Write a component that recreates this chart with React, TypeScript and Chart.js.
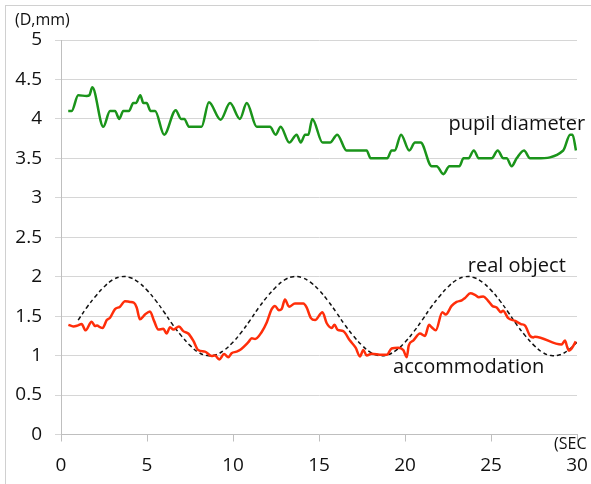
import React, { useEffect, useRef } from "react";
import { Chart, registerables } from "chart.js";

Chart.register(...registerables);

const pupilTime = [0.42, 0.62, 1.0, 1.49, 1.65, 1.82, 2.46, 2.85, 3.14, 3.39, 3.62, 3.95, 4.2, 4.36, 4.61, 4.79, 4.98, 5.21, 5.47, 6.0, 6.67, 6.98, 7.17, 7.44, 8.17, 8.6, 9.28, 9.83, 10.4, 10.8, 11.38, 12.15, 12.48, 12.77, 13.27, 13.7, 13.94, 14.19, 14.38, 14.61, 15.21, 15.64, 16.06, 16.6, 17.77, 18.0, 18.97, 19.22, 19.4, 19.77, 20.25, 20.58, 20.91, 21.55, 21.84, 22.23, 22.58, 23.16, 23.4, 23.68, 24.0, 24.3, 25.04, 25.39, 25.72, 25.91, 26.2, 26.49, 26.92, 27.27, 27.66, 29.2, 29.6, 29.74, 29.94];
const pupilDiameter = [4.1, 4.1, 4.3, 4.29, 4.3, 4.4, 3.9, 4.1, 4.1, 4.0, 4.1, 4.1, 4.2, 4.2, 4.3, 4.2, 4.2, 4.1, 4.1, 3.8, 4.11, 4.0, 4.0, 3.9, 3.9, 4.21, 3.99, 4.2, 4.0, 4.2, 3.9, 3.9, 3.8, 3.9, 3.7, 3.8, 3.7, 3.8, 3.8, 4.0, 3.7, 3.7, 3.8, 3.6, 3.6, 3.5, 3.5, 3.6, 3.6, 3.8, 3.6, 3.7, 3.7, 3.4, 3.4, 3.3, 3.4, 3.4, 3.5, 3.5, 3.6, 3.5, 3.5, 3.6, 3.5, 3.5, 3.4, 3.5, 3.6, 3.5, 3.5, 3.6, 3.8, 3.8, 3.6];

const accomTime = [0.43, 0.72, 0.95, 1.2, 1.43, 1.78, 1.98, 2.1, 2.27, 2.42, 2.66, 2.85, 3.14, 3.43, 3.72, 4.01, 4.24, 4.4, 4.59, 4.88, 5.17, 5.41, 5.66, 5.95, 6.14, 6.34, 6.53, 6.86, 7.11, 7.4, 7.69, 7.98, 8.37, 8.76, 8.95, 9.2, 9.48, 9.73, 9.92, 10.2, 10.4, 10.89, 11.09, 11.28, 11.67, 11.96, 12.25, 12.44, 12.67, 12.83, 13.02, 13.26, 13.6, 14.09, 14.28, 14.53, 14.77, 15.2, 15.45, 15.74, 15.9, 16.09, 16.41, 16.8, 17.13, 17.38, 17.58, 17.77, 18.06, 18.65, 18.94, 19.22, 19.61, 19.9, 20.1, 20.22, 20.48, 20.87, 21.16, 21.4, 21.55, 21.79, 22.17, 22.37, 22.71, 23.0, 23.3, 23.49, 23.8, 24.07, 24.3, 24.55, 24.81, 25.08, 25.33, 25.58, 25.7, 26.0, 26.4, 26.74, 26.98, 27.27, 27.46, 27.55, 29.1, 29.3, 29.43, 29.53, 29.69, 29.93];
const accommodation = [1.39, 1.37, 1.38, 1.4, 1.32, 1.43, 1.375, 1.38, 1.36, 1.35, 1.45, 1.48, 1.59, 1.62, 1.69, 1.68, 1.67, 1.61, 1.46, 1.52, 1.56, 1.44, 1.33, 1.34, 1.28, 1.36, 1.33, 1.37, 1.31, 1.28, 1.19, 1.07, 1.05, 0.995, 1.0, 0.95, 1.02, 0.98, 1.03, 1.05, 1.07, 1.17, 1.22, 1.21, 1.3, 1.42, 1.59, 1.63, 1.575, 1.59, 1.71, 1.62, 1.66, 1.66, 1.61, 1.475, 1.45, 1.55, 1.41, 1.35, 1.39, 1.325, 1.31, 1.19, 1.1, 0.99, 1.07, 1.0, 1.025, 1.01, 1.01, 1.09, 1.1, 1.07, 0.98, 1.13, 1.19, 1.28, 1.25, 1.39, 1.36, 1.32, 1.55, 1.52, 1.63, 1.68, 1.7, 1.73, 1.79, 1.77, 1.74, 1.75, 1.7, 1.63, 1.61, 1.55, 1.57, 1.475, 1.44, 1.4, 1.38, 1.25, 1.23, 1.24, 1.14, 1.19, 1.11, 1.06, 1.09, 1.18];

const objectTime = [1.0, 1.5, 2.0, 2.5, 3.0, 3.5, 4.0, 4.5, 5.0, 5.5, 6.0, 6.5, 7.0, 7.5, 8.0, 8.5, 9.0, 9.5, 10.0, 10.5, 11.0, 11.5, 12.0, 12.5, 13.0, 13.5, 14.0, 14.5, 15.0, 15.5, 16.0, 16.5, 17.0, 17.5, 18.0, 18.5, 19.0, 19.5, 20.0, 20.5, 21.0, 21.5, 22.0, 22.5, 23.0, 23.5, 24.0, 24.5, 25.0, 25.5, 26.0, 26.5, 27.0, 27.5, 28.0, 28.5, 29.0, 29.5, 30.0];
const realObject = [1.45, 1.61, 1.75, 1.87, 1.96, 2.0, 1.99, 1.93, 1.83, 1.7, 1.55, 1.39, 1.25, 1.13, 1.04, 1.0, 1.01, 1.07, 1.17, 1.3, 1.45, 1.61, 1.75, 1.87, 1.96, 2.0, 1.99, 1.93, 1.83, 1.7, 1.55, 1.39, 1.25, 1.13, 1.04, 1.0, 1.01, 1.07, 1.17, 1.3, 1.45, 1.61, 1.75, 1.87, 1.96, 2.0, 1.99, 1.93, 1.83, 1.7, 1.55, 1.39, 1.25, 1.13, 1.04, 1.0, 1.01, 1.07, 1.17];

const xTicksMax = 30;
const yTicksMax = 5;
const yAxisTitle = "(D,mm)";
const xAxisTitle = "(SEC";
const seriesLabels = ["pupil diameter", "real object", "accommodation"];

const FONT = "'Open Sans', 'DejaVu Sans', sans-serif";

const pts = (xs: number[], ys: number[]) => xs.map((x, i) => ({ x, y: ys[i] }));

const textPlugin = {
  id: "texts",
  afterDraw(chart: any) {
    const ctx = chart.ctx;
    const xs = chart.scales.x;
    const ys = chart.scales.y;
    ctx.save();
    ctx.fillStyle = "#111";
    ctx.textBaseline = "middle";
    ctx.textAlign = "left";
    ctx.font = `16px ${FONT}`;
    ctx.fillText(yAxisTitle, 15, 20);
    ctx.fillText(xAxisTitle, 554, 444);
    ctx.textBaseline = "alphabetic";
    ctx.textAlign = "center";
    ctx.font = `20px ${FONT}`;
    ctx.fillText(seriesLabels[0], xs.getPixelForValue(26.5), ys.getPixelForValue(3.86));
    ctx.fillText(seriesLabels[1], xs.getPixelForValue(26.5), ys.getPixelForValue(2.06));
    ctx.fillText(seriesLabels[2], xs.getPixelForValue(23.7), ys.getPixelForValue(0.78));
    ctx.restore();
  },
};

export default function App() {
  const ref = useRef<HTMLCanvasElement>(null);
  useEffect(() => {
    document.body.style.margin = "0";
    const chart = new Chart(ref.current as HTMLCanvasElement, {
      type: "line",
      data: {
        datasets: [
          {
            label: seriesLabels[0],
            data: pts(pupilTime, pupilDiameter),
            borderColor: "#1a941a",
            borderWidth: 2.5,
            pointRadius: 0,
            cubicInterpolationMode: "monotone",
          },
          {
            label: seriesLabels[2],
            data: pts(accomTime, accommodation),
            borderColor: "#ff2e0a",
            borderWidth: 2.5,
            pointRadius: 0,
            cubicInterpolationMode: "monotone",
          },
          {
            label: seriesLabels[1],
            data: pts(objectTime, realObject),
            borderColor: "#111",
            borderWidth: 1.5,
            borderDash: [4, 3],
            pointRadius: 0,
            tension: 0.4,
          },
        ],
      },
      options: {
        animation: false,
        responsive: false,
        maintainAspectRatio: false,
        layout: { padding: { top: 40, right: 14, left: 0, bottom: 0 } },
        plugins: { legend: { display: false }, tooltip: { enabled: false } },
        scales: {
          x: {
            type: "linear",
            min: 0,
            max: xTicksMax,
            ticks: { stepSize: 5, color: "#111", font: { family: FONT, size: 19 }, padding: 13, maxRotation: 0 },
            grid: { drawOnChartArea: false, tickLength: 7, color: "#bfbfbf" },
            border: { color: "#bfbfbf" },
            afterFit: (s: any) => {
              s.height = 49.5;
              s.paddingRight = 0;
              s.paddingLeft = 0;
            },
          },
          y: {
            min: 0,
            max: yTicksMax,
            ticks: {
              stepSize: 0.5,
              color: "#111",
              font: { family: FONT, size: 19 },
              padding: 13,
              callback: (v: any) => String(Number(v)),
            },
            grid: { color: "#d6d6d6", tickLength: 6 },
            border: { color: "#bfbfbf" },
            afterFit: (s: any) => {
              s.width = 61;
              s.paddingTop = 0;
              s.paddingBottom = 0;
            },
          },
        },
      },
      plugins: [textPlugin],
    } as any);
    return () => chart.destroy();
  }, []);
  return (
    <div style={{ position: "relative", width: 591, height: 484, overflow: "hidden", background: "#fff" }}>
      <div
        style={{
          position: "absolute",
          left: 5,
          top: 5,
          width: 700,
          height: 600,
          border: "1px solid #d0d0d0",
        }}
      />
      <canvas ref={ref} width={591} height={484} style={{ position: "absolute", left: 0, top: 0 }} />
    </div>
  );
}
